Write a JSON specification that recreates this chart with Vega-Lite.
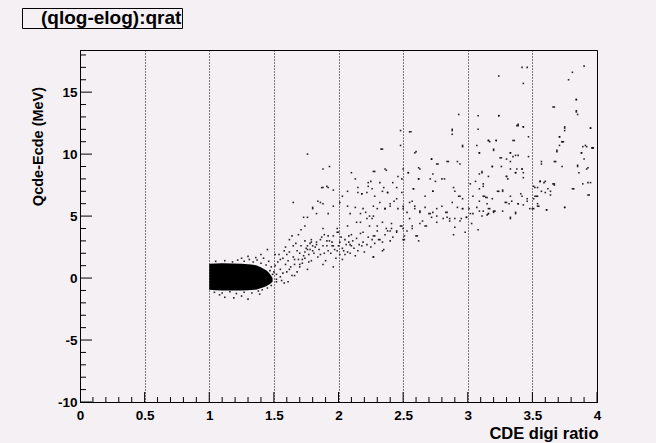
{
  "$schema": "https://vega.github.io/schema/vega-lite/v6.json",
  "autosize": "none",
  "padding": {"left": 80, "top": 50, "right": 59, "bottom": 41},
  "width": 517,
  "height": 352,
  "background": "#f4f0f4",
  "config": {
    "view": {"stroke": "#000000", "strokeWidth": 1, "fill": "#f4f0f4"},
    "axis": {"labelFont": "Liberation Sans", "titleFont": "Liberation Sans", "labelFontWeight": "bold", "titleFontWeight": "bold", "labelColor": "#000000", "titleColor": "#000000", "domainColor": "#000000", "tickColor": "#000000", "labelFlush": false, "labelOverlap": false, "labelBound": false}
  },
  "datasets": {
    "xmaj": [{"v":0},{"v":0.5},{"v":1},{"v":1.5},{"v":2},{"v":2.5},{"v":3},{"v":3.5},{"v":4}],
    "xmin": [{"v":0.1},{"v":0.2},{"v":0.3},{"v":0.4},{"v":0.6},{"v":0.7},{"v":0.8},{"v":0.9},{"v":1.1},{"v":1.2},{"v":1.3},{"v":1.4},{"v":1.6},{"v":1.7},{"v":1.8},{"v":1.9},{"v":2.1},{"v":2.2},{"v":2.3},{"v":2.4},{"v":2.6},{"v":2.7},{"v":2.8},{"v":2.9},{"v":3.1},{"v":3.2},{"v":3.3},{"v":3.4},{"v":3.6},{"v":3.7},{"v":3.8},{"v":3.9}],
    "ymaj": [{"v":-10},{"v":-5},{"v":0},{"v":5},{"v":10},{"v":15}],
    "ymin": [{"v":-9},{"v":-8},{"v":-7},{"v":-6},{"v":-4},{"v":-3},{"v":-2},{"v":-1},{"v":1},{"v":2},{"v":3},{"v":4},{"v":6},{"v":7},{"v":8},{"v":9},{"v":11},{"v":12},{"v":13},{"v":14},{"v":16},{"v":17},{"v":18}],
    "blob": [
      {"r": 1.0, "lo": -0.95, "hi": 1.15},
      {"r": 1.1, "lo": -1.0, "hi": 1.2},
      {"r": 1.25, "lo": -1.0, "hi": 1.15},
      {"r": 1.35, "lo": -0.95, "hi": 1.05},
      {"r": 1.42, "lo": -0.75, "hi": 0.75},
      {"r": 1.46, "lo": -0.55, "hi": 0.45},
      {"r": 1.49, "lo": -0.3, "hi": 0.0}
    ],
    "pts": [
      {"r":1.05,"d":1.35},{"r":1.12,"d":1.4},{"r":1.18,"d":1.3},{"r":1.22,"d":1.45},{"r":1.27,"d":1.35},{"r":1.31,"d":1.5},{"r":1.34,"d":1.3},{"r":1.37,"d":1.45},{"r":1.40,"d":1.2},{"r":1.42,"d":1.6},{"r":1.44,"d":1.05},{"r":1.46,"d":1.35},{"r":1.48,"d":0.9},{"r":1.45,"d":2.3},{"r":1.40,"d":1.9},{"r":1.30,"d":1.75},{"r":1.36,"d":1.65},{"r":1.25,"d":1.6},{"r":1.5,"d":0.5},{"r":1.52,"d":0.3},{"r":1.47,"d":0.6},{"r":1.51,"d":1.9},
      {"r":1.04,"d":-1.15},{"r":1.10,"d":-1.2},{"r":1.16,"d":-1.1},{"r":1.21,"d":-1.25},{"r":1.27,"d":-1.15},{"r":1.33,"d":-1.2},{"r":1.38,"d":-1.05},{"r":1.41,"d":-0.95},{"r":1.45,"d":-0.8},{"r":1.48,"d":-0.6},{"r":1.12,"d":-1.55},{"r":1.25,"d":-1.45},{"r":1.39,"d":-1.3},{"r":1.30,"d":-1.7},{"r":1.08,"d":-1.35},{"r":1.19,"d":-1.6},
      {"r":1.52,"d":-0.3},{"r":1.55,"d":0.1},{"r":1.58,"d":-0.4},{"r":1.57,"d":0.4},{"r":1.61,"d":-0.3},{"r":1.66,"d":0.2},
      {"r":1.47,"d":0.1},{"r":1.49,"d":0.3},{"r":1.51,"d":1.0},{"r":1.53,"d":1.3},{"r":1.55,"d":0.7},{"r":1.52,"d":-0.1},{"r":1.56,"d":-0.2},{"r":1.55,"d":1.5},{"r":1.59,"d":1.1},{"r":1.60,"d":1.9},{"r":1.61,"d":1.4},{"r":1.62,"d":0.7},{"r":1.64,"d":0.2},{"r":1.65,"d":1.7},{"r":1.66,"d":1.1},{"r":1.68,"d":2.2},{"r":1.69,"d":1.5},{"r":1.70,"d":0.9},{"r":1.71,"d":2.6},{"r":1.73,"d":1.8},{"r":1.74,"d":3.0},{"r":1.76,"d":2.3},{"r":1.77,"d":1.3},{"r":1.62,"d":3.1},{"r":1.65,"d":2.6},{"r":1.59,"d":2.5},{"r":1.65,"d":6.1},{"r":1.79,"d":2.9},{"r":1.80,"d":2.2},{"r":1.83,"d":2.7},{"r":1.86,"d":1.9},{"r":1.88,"d":2.6},{"r":1.91,"d":3.0},{"r":1.92,"d":2.2},{"r":1.95,"d":2.6},{"r":1.96,"d":3.4},{"r":1.99,"d":3.7},{"r":1.99,"d":2.2},{"r":2.01,"d":2.9},{"r":1.80,"d":5.6},{"r":1.84,"d":6.2},{"r":1.88,"d":6.0},{"r":1.87,"d":7.3},{"r":1.92,"d":7.3},{"r":2.07,"d":4.2},{"r":2.10,"d":3.5},{"r":2.14,"d":4.5},{"r":2.17,"d":5.2},{"r":2.19,"d":5.6},{"r":2.22,"d":4.8},{"r":2.24,"d":4.2},{"r":2.27,"d":5.0},{"r":2.30,"d":3.8},{"r":2.15,"d":6.9},{"r":2.23,"d":7.7},{"r":2.18,"d":6.8},{"r":2.09,"d":2.7},{"r":2.07,"d":2.1},{"r":2.03,"d":1.5},{"r":1.88,"d":1.1},{"r":1.96,"d":0.9},
      {"r":1.70,"d":2.0},{"r":1.72,"d":1.2},{"r":1.74,"d":1.6},{"r":1.75,"d":2.4},{"r":1.77,"d":1.9},{"r":1.78,"d":2.8},{"r":1.79,"d":1.4},{"r":1.81,"d":2.0},{"r":1.82,"d":2.5},{"r":1.84,"d":1.7},{"r":1.85,"d":2.3},{"r":1.87,"d":3.3},{"r":1.89,"d":2.0},{"r":1.90,"d":1.4},{"r":1.92,"d":3.4},{"r":1.94,"d":2.0},{"r":1.95,"d":2.9},{"r":1.97,"d":2.3},{"r":1.98,"d":1.6},{"r":2.00,"d":2.6},{"r":2.02,"d":3.3},{"r":2.03,"d":2.4},{"r":2.05,"d":1.9},{"r":2.06,"d":2.7},{"r":2.08,"d":3.4},{"r":2.09,"d":2.0},{"r":2.11,"d":3.0},{"r":2.12,"d":2.4},{"r":2.14,"d":3.2},{"r":2.16,"d":2.7},{"r":2.17,"d":3.6},{"r":2.19,"d":2.9},{"r":2.20,"d":2.1},{"r":2.23,"d":3.3},{"r":2.25,"d":2.5},{"r":2.28,"d":2.8},{"r":1.63,"d":0.9},{"r":1.66,"d":1.5},{"r":1.68,"d":0.5},{"r":1.60,"d":0.5},{"r":1.57,"d":1.6},{"r":1.62,"d":2.1},{"r":1.67,"d":2.8},{"r":1.69,"d":3.5},{"r":1.71,"d":3.9},{"r":1.64,"d":3.4},{"r":1.58,"d":2.2},{"r":1.54,"d":1.9},
      {"r":1.76,"d":10.0},{"r":1.88,"d":8.8},{"r":1.93,"d":9.0},{"r":1.88,"d":7.3},{"r":1.91,"d":7.4},{"r":1.96,"d":7.1},{"r":2.33,"d":10.4},{"r":2.48,"d":11.9},{"r":2.56,"d":11.8},{"r":2.60,"d":10.2},{"r":2.93,"d":13.2},{"r":2.88,"d":12.0},{"r":2.88,"d":11.6},{"r":3.08,"d":13.1},{"r":3.08,"d":12.0},{"r":3.24,"d":13.1},{"r":2.96,"d":10.6},{"r":3.17,"d":11.0},{"r":3.22,"d":11.1},{"r":3.20,"d":10.3},{"r":3.39,"d":12.3},{"r":3.43,"d":12.2},{"r":3.36,"d":11.1},{"r":3.33,"d":10.1},{"r":3.37,"d":9.9},{"r":3.66,"d":13.8},{"r":3.84,"d":14.4},{"r":3.84,"d":13.4},{"r":3.75,"d":12.1},{"r":3.71,"d":11.4},{"r":3.73,"d":11.0},{"r":3.69,"d":10.3},{"r":3.95,"d":12.1},{"r":3.91,"d":10.7},{"r":3.88,"d":10.1},{"r":3.97,"d":10.5},{"r":3.85,"d":9.1},{"r":3.92,"d":8.8},{"r":3.93,"d":7.7},{"r":3.94,"d":6.7},{"r":3.81,"d":7.2},{"r":3.75,"d":5.7},{"r":3.56,"d":7.8},{"r":3.60,"d":7.8},{"r":3.62,"d":7.2},{"r":3.64,"d":6.7},{"r":3.67,"d":7.6},{"r":3.52,"d":7.3},{"r":3.53,"d":6.6},{"r":3.51,"d":6.4},{"r":3.54,"d":5.8},{"r":3.61,"d":5.5},{"r":3.51,"d":5.6},{"r":3.42,"d":6.6},{"r":3.46,"d":6.4},{"r":3.39,"d":6.0},{"r":3.57,"d":9.4},{"r":3.67,"d":9.4},{"r":3.25,"d":9.7},{"r":3.33,"d":9.4},{"r":3.38,"d":8.8},{"r":3.42,"d":8.8},{"r":3.30,"d":8.2},{"r":3.37,"d":8.5},{"r":3.19,"d":9.0},{"r":3.11,"d":8.6},{"r":3.06,"d":7.8},{"r":3.12,"d":7.4},{"r":3.15,"d":6.5},{"r":3.24,"d":7.0},{"r":3.27,"d":7.1},{"r":3.30,"d":6.1},{"r":3.34,"d":6.2},{"r":3.37,"d":5.3},{"r":3.33,"d":4.9},{"r":3.20,"d":5.4},{"r":3.16,"d":5.6},{"r":3.09,"d":5.4},{"r":3.15,"d":5.1},{"r":3.04,"d":5.2},{"r":3.01,"d":5.6},{"r":2.96,"d":5.6},{"r":2.99,"d":4.9},{"r":2.94,"d":4.6},{"r":2.90,"d":4.1},{"r":2.89,"d":3.5},{"r":2.86,"d":4.6},{"r":2.84,"d":4.9},{"r":2.83,"d":5.3},{"r":2.76,"d":5.0},{"r":2.73,"d":5.3},{"r":2.70,"d":5.2},{"r":2.67,"d":4.2},{"r":2.63,"d":4.4},{"r":2.62,"d":3.0},{"r":2.60,"d":3.4},{"r":2.57,"d":4.0},{"r":2.53,"d":3.8},{"r":2.51,"d":3.1},{"r":2.50,"d":4.0},{"r":2.48,"d":4.2},{"r":2.45,"d":3.8},{"r":2.41,"d":4.0},{"r":2.38,"d":3.8},{"r":2.36,"d":3.5},{"r":2.40,"d":3.0},{"r":2.35,"d":2.3},{"r":2.32,"d":3.1},{"r":2.28,"d":3.4},{"r":2.26,"d":3.1},{"r":2.27,"d":1.7},{"r":2.22,"d":2.7},{"r":2.19,"d":3.7},{"r":2.18,"d":2.6},{"r":2.15,"d":2.2},{"r":2.13,"d":1.8},{"r":2.10,"d":2.6},{"r":2.08,"d":2.9},{"r":2.05,"d":3.1},{"r":2.04,"d":2.2},{"r":2.01,"d":1.9},{"r":2.00,"d":3.7},{"r":1.99,"d":4.0},{"r":1.96,"d":2.6},{"r":1.93,"d":3.0},{"r":1.91,"d":2.6},{"r":1.89,"d":3.5},{"r":1.88,"d":4.0},{"r":1.86,"d":3.1},{"r":1.83,"d":2.9},{"r":1.80,"d":2.6},{"r":1.79,"d":3.1},{"r":1.78,"d":2.3},{"r":1.76,"d":2.6},{"r":1.74,"d":2.1},{"r":1.72,"d":1.5},{"r":1.76,"d":0.7},{"r":1.70,"d":1.1},
      {"r":2.09,"d":5.2},{"r":2.13,"d":5.7},{"r":2.17,"d":4.5},{"r":2.21,"d":5.3},{"r":2.24,"d":5.0},{"r":2.30,"d":5.6},{"r":2.36,"d":5.6},{"r":2.40,"d":5.8},{"r":2.45,"d":6.4},{"r":2.50,"d":5.6},{"r":2.55,"d":6.1},{"r":2.59,"d":5.8},{"r":2.63,"d":5.3},{"r":2.67,"d":6.6},{"r":2.73,"d":7.0},{"r":2.73,"d":8.4},{"r":2.72,"d":9.6},{"r":2.76,"d":9.2},{"r":2.84,"d":9.4},{"r":2.82,"d":8.0},{"r":2.92,"d":9.4},{"r":2.89,"d":7.3},{"r":2.93,"d":6.6},{"r":2.96,"d":6.4},
      {"r":2.28,"d":8.6},{"r":2.37,"d":8.7},{"r":2.46,"d":8.2},{"r":2.50,"d":8.8},{"r":2.54,"d":8.5},{"r":2.62,"d":8.9},{"r":2.62,"d":8.0},{"r":2.25,"d":7.8},{"r":2.23,"d":7.4},{"r":2.32,"d":7.7},{"r":2.35,"d":7.3},{"r":2.38,"d":6.9},{"r":2.45,"d":7.3},{"r":2.49,"d":6.9},{"r":2.58,"d":7.2},{"r":2.10,"d":8.5},{"r":2.13,"d":8.0},{"r":2.18,"d":6.8},{"r":2.15,"d":7.3},{"r":2.22,"d":6.9},{"r":2.07,"d":7.0},{"r":2.03,"d":6.6},{"r":2.07,"d":5.8},{"r":2.01,"d":6.1},{"r":1.96,"d":5.8},{"r":1.92,"d":5.2},{"r":1.86,"d":6.1},{"r":1.80,"d":5.7},{"r":1.83,"d":5.2},{"r":1.76,"d":4.9},{"r":1.74,"d":4.2},{"r":1.73,"d":4.9},
      {"r":2.27,"d":8.6},{"r":2.36,"d":8.8},{"r":2.34,"d":10.4},{"r":2.48,"d":10.7},{"r":2.55,"d":11.8},{"r":2.59,"d":10.1},{"r":2.63,"d":8.8},{"r":2.72,"d":9.6},{"r":2.77,"d":9.2},{"r":2.85,"d":9.4},{"r":2.88,"d":11.9},{"r":2.96,"d":10.7},{"r":2.94,"d":9.2},{"r":3.07,"d":10.7},{"r":3.09,"d":10.1},{"r":3.16,"d":11.1},
      {"r":2.26,"d":7.2},{"r":2.28,"d":6.6},{"r":2.34,"d":7.0},{"r":2.38,"d":6.9},{"r":2.42,"d":7.7},{"r":2.49,"d":8.0},{"r":2.54,"d":8.5},{"r":2.58,"d":7.2},{"r":2.62,"d":8.0},{"r":2.71,"d":8.0},{"r":2.75,"d":7.8},{"r":2.73,"d":7.0},{"r":2.80,"d":8.0},{"r":2.90,"d":7.0},{"r":2.94,"d":6.6},{"r":3.02,"d":7.6},{"r":3.04,"d":6.6},{"r":3.09,"d":7.2},{"r":3.13,"d":6.6},
      {"r":2.27,"d":5.8},{"r":2.32,"d":6.1},{"r":2.36,"d":5.6},{"r":2.40,"d":6.0},{"r":2.43,"d":6.2},{"r":2.46,"d":5.6},{"r":2.50,"d":5.8},{"r":2.53,"d":5.3},{"r":2.57,"d":6.2},{"r":2.59,"d":5.6},{"r":2.63,"d":5.4},{"r":2.67,"d":5.7},{"r":2.71,"d":5.2},{"r":2.76,"d":5.6},{"r":2.80,"d":5.8},{"r":2.84,"d":5.3},{"r":2.88,"d":6.1},{"r":2.92,"d":5.7},{"r":2.96,"d":5.6},{"r":3.02,"d":5.2},{"r":3.07,"d":5.7},{"r":3.12,"d":5.4},{"r":3.16,"d":5.2},
      {"r":2.26,"d":4.8},{"r":2.30,"d":4.2},{"r":2.34,"d":4.5},{"r":2.37,"d":4.0},{"r":2.41,"d":4.4},{"r":2.45,"d":3.7},{"r":2.49,"d":4.2},{"r":2.51,"d":3.4},{"r":2.55,"d":4.8},{"r":2.57,"d":4.2},{"r":2.61,"d":3.4},{"r":2.65,"d":4.6},{"r":2.68,"d":4.2},{"r":2.72,"d":4.9},{"r":2.76,"d":4.5},{"r":2.81,"d":4.8},{"r":2.86,"d":4.8},{"r":2.90,"d":4.8},{"r":2.95,"d":4.8},{"r":2.99,"d":4.9},{"r":2.27,"d":3.4},{"r":2.31,"d":3.1},{"r":2.34,"d":2.9},{"r":2.40,"d":3.8},{"r":2.42,"d":3.3},{"r":2.50,"d":3.1},{"r":2.27,"d":1.7},{"r":2.34,"d":2.2},
      {"r":3.42,"d":17.0},{"r":3.46,"d":17.0},{"r":3.24,"d":16.3},{"r":3.43,"d":15.7},{"r":3.90,"d":17.1},{"r":3.81,"d":16.6},{"r":3.78,"d":16.0},{"r":3.84,"d":14.4},{"r":3.67,"d":13.8},{"r":3.84,"d":13.5},{"r":3.85,"d":13.2},{"r":3.24,"d":13.1},{"r":3.39,"d":12.4},{"r":3.38,"d":12.3},{"r":3.43,"d":12.2},{"r":3.75,"d":12.2},{"r":3.75,"d":11.9},{"r":3.95,"d":12.1},{"r":3.47,"d":11.4},{"r":3.71,"d":11.4},{"r":3.73,"d":11.0},{"r":3.74,"d":11.0},{"r":3.71,"d":10.7},{"r":3.69,"d":10.2},{"r":3.16,"d":11.1},{"r":3.22,"d":11.1},{"r":3.09,"d":10.1},{"r":3.20,"d":10.4},{"r":3.35,"d":11.1},{"r":3.33,"d":10.1},{"r":3.35,"d":9.8},{"r":3.39,"d":9.9},{"r":3.26,"d":9.7},{"r":3.30,"d":9.6},{"r":3.47,"d":9.8},{"r":3.92,"d":10.6},{"r":3.89,"d":10.6},{"r":3.96,"d":10.5},{"r":3.97,"d":10.5},{"r":3.88,"d":10.1},{"r":3.90,"d":9.6},{"r":3.68,"d":9.4},{"r":3.57,"d":9.2},{"r":3.73,"d":9.0},{"r":3.85,"d":9.0},{"r":3.93,"d":8.9},{"r":3.19,"d":9.0},{"r":3.26,"d":9.0},{"r":3.33,"d":8.8},{"r":3.37,"d":8.5},{"r":3.42,"d":8.8},{"r":3.43,"d":8.5},{"r":3.11,"d":8.5},{"r":3.09,"d":8.4},{"r":3.86,"d":8.5},{"r":3.30,"d":8.2},{"r":3.31,"d":8.0},{"r":3.43,"d":8.1},{"r":3.16,"d":8.2},{"r":3.12,"d":7.6},{"r":3.56,"d":7.8},{"r":3.59,"d":7.7},{"r":3.89,"d":7.6},{"r":3.95,"d":7.7},{"r":3.51,"d":7.4},{"r":3.54,"d":7.3},{"r":3.66,"d":7.6},{"r":3.67,"d":7.5},{"r":3.82,"d":7.2},{"r":3.93,"d":6.7},{"r":3.52,"d":6.6},{"r":3.54,"d":6.6},{"r":3.60,"d":6.9},{"r":3.64,"d":7.0},{"r":3.57,"d":7.0},{"r":3.41,"d":6.8},{"r":3.23,"d":7.0},{"r":3.27,"d":7.0},{"r":3.33,"d":6.6},{"r":3.12,"d":6.6},{"r":3.14,"d":6.5},{"r":3.19,"d":6.4},{"r":3.09,"d":6.2},{"r":3.29,"d":6.1},{"r":3.32,"d":6.0},{"r":3.39,"d":6.0},{"r":3.43,"d":5.9},{"r":3.46,"d":6.2},{"r":3.54,"d":6.0},{"r":3.55,"d":5.8},{"r":3.61,"d":5.5},{"r":3.75,"d":5.7},{"r":3.48,"d":5.6},{"r":3.50,"d":5.6},{"r":3.15,"d":6.0},{"r":3.17,"d":5.6},{"r":3.21,"d":5.4},{"r":3.20,"d":5.3},{"r":3.27,"d":5.4},{"r":3.37,"d":5.2},{"r":3.16,"d":5.2},{"r":3.11,"d":5.0},{"r":3.33,"d":4.8},
      {"r":3.03,"d":4.4},{"r":3.08,"d":3.9},{"r":2.98,"d":3.7}
    ]
  },
  "layer": [
    {
      "data": {"name": "blob"},
      "mark": {"type": "area", "color": "#000000", "interpolate": "monotone"},
      "encoding": {
        "x": {"field": "r", "type": "quantitative", "scale": {"domain": [0, 4], "nice": false, "zero": false}, "axis": {"orient": "bottom", "values": [0, 0.5, 1, 1.5, 2, 2.5, 3, 3.5, 4], "labelExpr": "'' + datum.value", "labelFont": "Liberation Sans", "labelFontWeight": "bold", "labelFontSize": 13.5, "labelPadding": 6, "ticks": false, "grid": true, "gridColor": "#000000", "gridDash": [1, 2], "gridWidth": 1, "gridOpacity": 1, "title": "CDE digi ratio", "titleFontSize": 16.5, "titleAnchor": "end", "titleAlign": "right", "titleBaseline": "alphabetic", "titleX": 518, "titleY": 36}},
        "y": {"field": "lo", "type": "quantitative", "scale": {"domain": [-10, 18.4], "nice": false, "zero": false}, "axis": {"orient": "left", "values": [-10, -5, 0, 5, 10, 15], "labelExpr": "'' + datum.value", "labelFont": "Liberation Sans", "labelFontWeight": "bold", "labelFontSize": 13.5, "labelPadding": 3, "ticks": false, "grid": false, "title": "Qcde-Ecde  (MeV)", "titleFontSize": 14.5, "titleAngle": -90, "titleAlign": "center", "titleBaseline": "middle", "titleX": -42, "titleY": 96}},
        "y2": {"field": "hi"}
      }
    },
    {
      "data": {"name": "xmaj"},
      "mark": {"type": "tick", "orient": "vertical", "size": 20, "thickness": 1, "color": "#000000", "opacity": 1, "clip": true},
      "encoding": {
        "x": {"field": "v", "type": "quantitative"},
        "y": {"datum": -10, "type": "quantitative"}
      }
    },
    {
      "data": {"name": "xmin"},
      "mark": {"type": "tick", "orient": "vertical", "size": 10, "thickness": 1, "color": "#000000", "opacity": 1, "clip": true},
      "encoding": {
        "x": {"field": "v", "type": "quantitative"},
        "y": {"datum": -10, "type": "quantitative"}
      }
    },
    {
      "data": {"name": "ymaj"},
      "mark": {"type": "tick", "orient": "horizontal", "size": 24, "thickness": 1, "color": "#000000", "opacity": 1, "clip": true},
      "encoding": {
        "y": {"field": "v", "type": "quantitative"},
        "x": {"datum": 0, "type": "quantitative"}
      }
    },
    {
      "data": {"name": "ymin"},
      "mark": {"type": "tick", "orient": "horizontal", "size": 12, "thickness": 1, "color": "#000000", "opacity": 1, "clip": true},
      "encoding": {
        "y": {"field": "v", "type": "quantitative"},
        "x": {"datum": 0, "type": "quantitative"}
      }
    },
    {
      "data": {"name": "pts"},
      "mark": {"type": "square", "size": 2.5, "color": "#000000", "opacity": 0.85, "strokeWidth": 0},
      "encoding": {
        "x": {"field": "r", "type": "quantitative"},
        "y": {"field": "d", "type": "quantitative"},
        "color": {"datum": "(qlog-elog):qrat  ", "type": "nominal", "scale": {"range": ["#000000"]}, "legend": {"orient": "none", "legendX": -58, "legendY": -42, "title": null, "padding": 0, "symbolSize": 0, "symbolOpacity": 0, "symbolStrokeWidth": 0, "labelOffset": 0, "labelFont": "Liberation Sans", "labelFontWeight": "bold", "labelFontSize": 19, "labelColor": "#000000", "labelLimit": 400, "strokeColor": "#000000", "fillColor": "#f4f0f4"}}
      }
    }
  ]
}
